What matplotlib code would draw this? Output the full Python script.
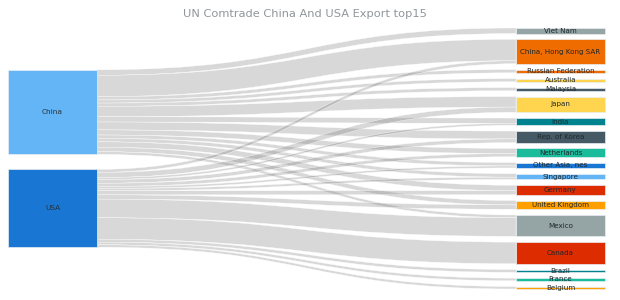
import matplotlib.pyplot as plt
from matplotlib.path import Path
from matplotlib.patches import PathPatch, Rectangle

#----- Data (export value, billion USD) -----
sources = [ "China", "USA" ]
source_colours = [ "#64b5f6", "#1976d2" ]

targets = [ "Viet Nam", "China, Hong Kong SAR", "Russian Federation", "Australia", "Malaysia",
	"Japan", "India", "Rep. of Korea", "Netherlands", "Other Asia, nes", "Singapore",
	"Germany", "United Kingdom", "Mexico", "Canada", "Brazil", "France", "Belgium" ]
target_colours = [ "#95a5a6", "#ef6c00", "#ef6c00", "#ffd54f", "#455a64",
	"#ffd54f", "#00838f", "#455a64", "#1abc9c", "#1976d2", "#64b5f6",
	"#dd2c00", "#ffa000", "#95a5a6", "#dd2c00", "#00838f", "#1abc9c", "#ffa000" ]

china_values = [ 72, 279, 43, 41, 42, 137, 68, 103, 67, 44, 45, 71, 57, 36, 0, 0, 0, 0 ]
usa_values = [ 0, 40, 0, 0, 0, 68, 26, 48, 42, 26, 30, 53, 56, 243, 282, 37, 34, 32 ]
flows = [ china_values, usa_values ]

title = "UN Comtrade China And USA Export top15"

#----- Layout (pixels) -----
W, H = 620, 300
left_x, right_x, node_w = 8, 516, 89
top, bottom = 28, 289
pad_right, pad_left = 5.8, 15

fig = plt.figure( figsize=(6.2, 3.0), dpi=100 )
ax = fig.add_axes( [0, 0, 1, 1] )
ax.set_xlim( 0, W )
ax.set_ylim( H, 0 )
ax.axis( "off" )

target_totals = [ sum(f[i] for f in flows) for i in range(len(targets)) ]
source_totals = [ sum(f) for f in flows ]
ky = ( bottom - top - pad_right*(len(targets)-1) ) / sum(target_totals)

# right column
target_y = []
y = top
for t in target_totals:
	target_y.append( y )
	y += t*ky + pad_right

# left column, centred on the same band
left_h = sum(source_totals)*ky + pad_left*(len(sources)-1)
source_y = []
y = (top + bottom)/2 - left_h/2
for s in source_totals:
	source_y.append( y )
	y += s*ky + pad_left

#----- Links -----
x0, x1 = left_x + node_w, right_x
xm = (x0 + x1)/2
target_fill = list( target_y )
for si, f in enumerate( flows ):
	sy = source_y[si]
	for ti, v in enumerate( f ):
		if v == 0:
			continue
		h = v*ky
		ty = target_fill[ti]
		verts = [ (x0, sy), (xm, sy), (xm, ty), (x1, ty),
			(x1, ty+h), (xm, ty+h), (xm, sy+h), (x0, sy+h), (x0, sy) ]
		codes = [ Path.MOVETO, Path.CURVE4, Path.CURVE4, Path.CURVE4,
			Path.LINETO, Path.CURVE4, Path.CURVE4, Path.CURVE4, Path.CLOSEPOLY ]
		ax.add_patch( PathPatch( Path(verts, codes), facecolor=(0.5, 0.5, 0.5, 0.3),
			edgecolor="white", lw=0.25, zorder=1 ) )
		sy += h
		target_fill[ti] += h

#----- Nodes -----
for i, name in enumerate( sources ):
	h = source_totals[i]*ky
	ax.add_patch( Rectangle( (left_x, source_y[i]), node_w, h, facecolor=source_colours[i],
		edgecolor="#e8eef3", lw=0.5, zorder=2 ) )
	ax.text( left_x + node_w/2, source_y[i] + h/2, name, ha="center", va="center",
		fontsize=5.3, color="#263238", zorder=3 )

for i, name in enumerate( targets ):
	h = target_totals[i]*ky
	ax.add_patch( Rectangle( (right_x, target_y[i]), node_w, h, facecolor=target_colours[i],
		edgecolor="#e8eef3", lw=0.5, zorder=2 ) )
	ax.text( right_x + node_w/2, target_y[i] + h/2, name, ha="center", va="center",
		fontsize=5.1, color="#1e272c", zorder=3 )

ax.text( W/2 - 5, 14, title, ha="center", va="center", fontsize=8.2, color="#8f979c" )

plt.savefig( "out.png", dpi=100 )
plt.close()
